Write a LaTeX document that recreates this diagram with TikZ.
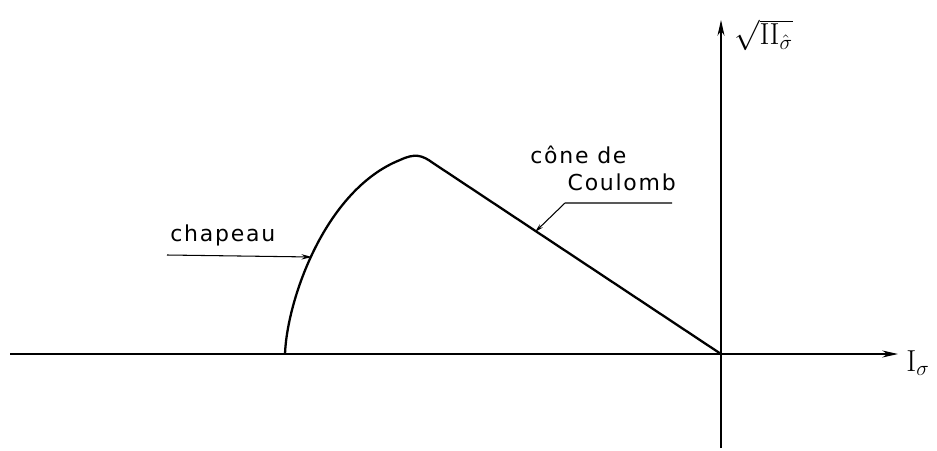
\documentclass[tikz,border=0pt]{standalone}
\usepackage{fontspec}
\setsansfont{DejaVu Sans}[LetterSpace=8]
\usepackage{tikz}
\usetikzlibrary{arrows.meta,positioning,calc}

\begin{document}
\begin{tikzpicture}[x=0.02cm,y=-0.02cm,
  axis/.style={line width=0.6pt,-{Stealth[length=9pt,width=4pt]}},
  courbe/.style={line width=1.3pt},
  renvoi/.style={line width=0.6pt},
  legende/.style={font=\sffamily\fontsize{12.5}{15}\selectfont,inner sep=0pt}]
  \useasboundingbox (0,0) rectangle (937,450);
  \coordinate (O) at (721,354);
  \coordinate (xstart) at (10,354);
  \coordinate (xend) at (898,354);
  \coordinate (ystart) at (721,448);
  \coordinate (yend) at (721,20);
  \draw[axis] (xstart) -- (xend);
  \draw[axis] (ystart) -- (yend);
  \node[anchor=north west,inner sep=0pt] (xlabel) at (906,350) {\LARGE$\mathrm{I}_{\sigma}$};
  \node[anchor=north west,inner sep=0pt] (ylabel) at (734,19) {\LARGE$\sqrt{\mathrm{II}_{\hat{\sigma}}}$};
  % chapeau + cone
  \coordinate (base) at (285,354);
  \draw[courbe] (base) .. controls (287,300) and (325,190) .. (400,160)
    .. controls (415,153) and (422,155) .. (433,163) -- (O);
  \coordinate (hat) at (312,257);
  \coordinate (cline) at (535,232);
  \node[legende,anchor=south west] (chapeau) at (170,246) {chapeau};
  \coordinate (chapfoot) at (167,255);
  \draw[renvoi,-{Stealth[length=6pt,width=3pt]}] (chapfoot) -- (hat);
  \node[legende,align=left,anchor=north west] (cone) at (530,146) {cône de\\\hspace*{1.7em}Coulomb};
  \coordinate (crest) at (672,203);
  \coordinate (cknee) at (565,203);
  \draw[renvoi,-{Stealth[length=5pt,width=2.5pt]}] (crest) -- (cknee) -- (cline);
\end{tikzpicture}
\end{document}
